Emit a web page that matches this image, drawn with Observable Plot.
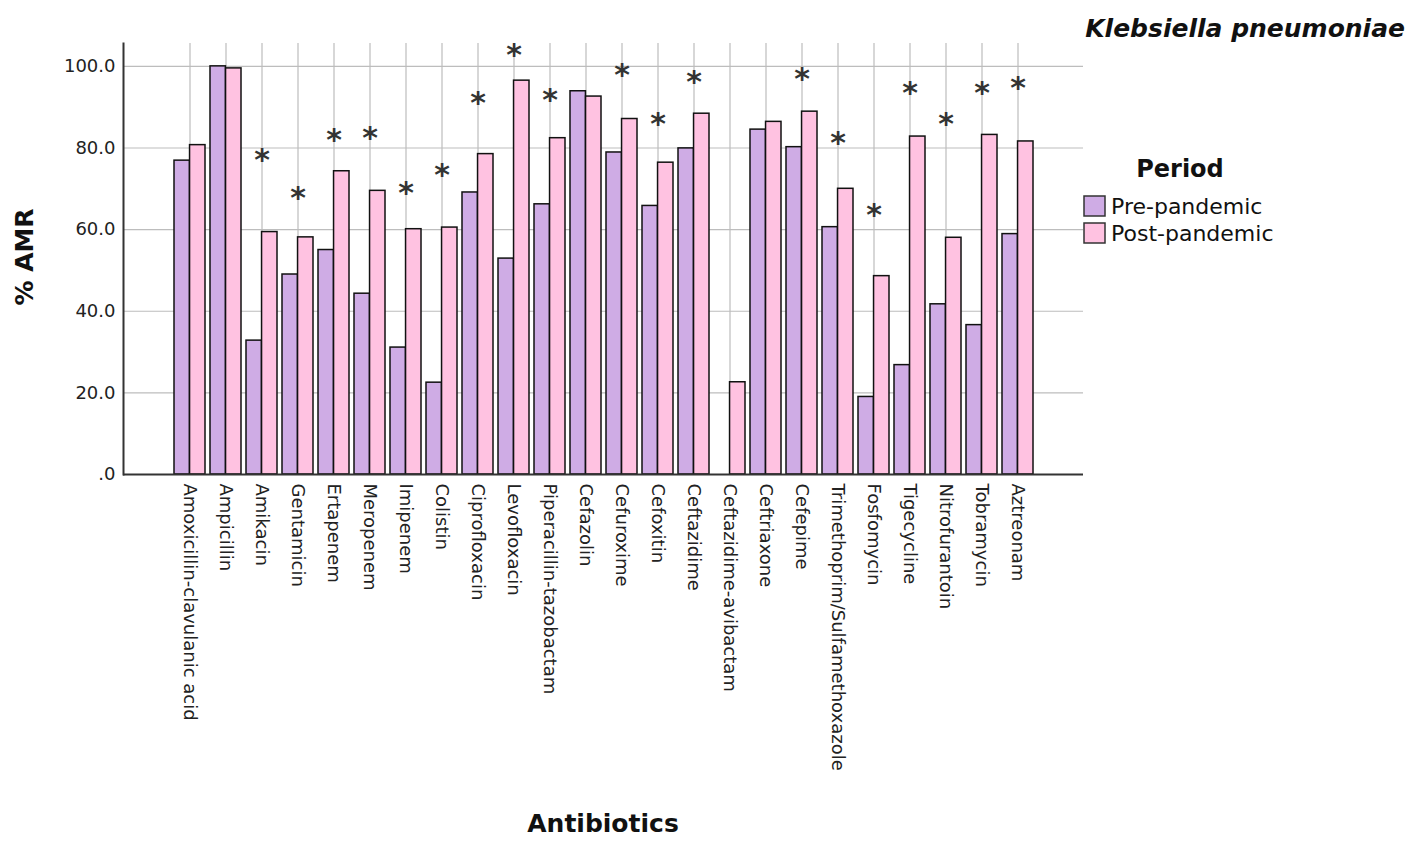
<!DOCTYPE html>
<html>
<head>
<meta charset="utf-8">
<script src="https://cdn.jsdelivr.net/npm/d3@7"></script>
<script src="https://cdn.jsdelivr.net/npm/@observablehq/plot@0.6"></script>
<style>
  html, body { margin: 0; padding: 0; background: #fff; overflow: hidden; }
  #chart { position: relative; width: 1419px; height: 843px; }
  svg { font-family: "DejaVu Sans", sans-serif; }
</style>
</head>
<body>
<div id="chart"></div>
<script>
const antibiotics = [
  "Amoxicillin-clavulanic acid", "Ampicillin", "Amikacin", "Gentamicin", "Ertapenem",
  "Meropenem", "Imipenem", "Colistin", "Ciprofloxacin", "Levofloxacin",
  "Piperacillin-tazobactam", "Cefazolin", "Cefuroxime", "Cefoxitin", "Ceftazidime",
  "Ceftazidime-avibactam", "Ceftriaxone", "Cefepime", "Trimethoprim/Sulfamethoxazole",
  "Fosfomycin", "Tigecycline", "Nitrofurantoin", "Tobramycin", "Aztreonam"
];
const prePandemic = [76.9, 100.0, 32.8, 49.0, 55.0, 44.3, 31.1, 22.5, 69.1, 52.9,
  66.2, 93.9, 78.9, 65.8, 79.9, null, 84.5, 80.2, 60.6, 19.0, 26.8, 41.7, 36.6, 58.9];
const postPandemic = [80.7, 99.5, 59.4, 58.1, 74.3, 69.5, 60.1, 60.5, 78.5, 96.5,
  82.4, 92.6, 87.1, 76.4, 88.4, 22.6, 86.4, 88.9, 70.0, 48.6, 82.8, 58.0, 83.2, 81.6];
// y position (in % AMR units) of the significance asterisk, null = none
const starY = [null, null, 77.8, 68.4, 82.6, 83.0, 69.7, 74.0, 91.6, 103.4,
  92.4, null, 98.5, 86.5, 96.7, null, null, 97.5, 81.8, 64.2, 94.0, 86.5, 94.0, 95.4];
const periods = ["Pre-pandemic", "Post-pandemic"];
const yTicks = [0, 20, 40, 60, 80, 100];

const colors = {"Pre-pandemic": "#CFACE5", "Post-pandemic": "#FFC2E1"};

const preRows = antibiotics.map((a, i) => ({antibiotic: a, value: prePandemic[i]})).filter(d => d.value != null);
const postRows = antibiotics.map((a, i) => ({antibiotic: a, value: postPandemic[i]})).filter(d => d.value != null);
const starRows = antibiotics.map((a, i) => ({antibiotic: a, y: starY[i]})).filter(d => d.y != null);

const W = 1419, H = 843;
const mLeft = 123, mRight = 336, mTop = 43, mBottom = 369;
const xInset = 46, padInner = 0.14;
const step = (W - mLeft - mRight - 2 * xInset) / antibiotics.length;
const half = step * (1 - padInner) / 2;

const plot = Plot.plot({
  width: W,
  height: H,
  marginLeft: mLeft,
  marginRight: mRight,
  marginTop: mTop,
  marginBottom: mBottom,
  style: {fontFamily: "DejaVu Sans, sans-serif", background: "#fff"},
  x: {type: "band", domain: antibiotics, paddingInner: padInner, paddingOuter: padInner / 2,
      insetLeft: xInset, insetRight: xInset, label: null},
  y: {domain: [0, 105.6], label: null},
  marks: [
    Plot.ruleY(yTicks.filter(d => d > 0), {stroke: "#bdbdbd", strokeWidth: 1.2}),
    Plot.ruleX(antibiotics, {stroke: "#bdbdbd", strokeWidth: 1.2}),
    Plot.barY(preRows, {x: "antibiotic", y: "value", fill: colors["Pre-pandemic"],
      stroke: "#111", strokeWidth: 1.5, insetRight: half}),
    Plot.barY(postRows, {x: "antibiotic", y: "value", fill: colors["Post-pandemic"],
      stroke: "#111", strokeWidth: 1.5, insetLeft: half}),
    Plot.text(starRows, {x: "antibiotic", y: "y", text: () => "*", fontSize: 30,
      fontWeight: "bold", fill: "#333", dy: 3}),
    Plot.axisY({ticks: yTicks, tickSize: 0, tickPadding: 8, fontSize: 18, fill: "#222",
      tickFormat: d => d === 0 ? ".0" : d.toFixed(1), label: null}),
    Plot.axisX({tickSize: 0, tickPadding: 9, tickRotate: 90, textAnchor: "start",
      lineAnchor: "middle", fontSize: 18, fill: "#222", label: null}),
    Plot.ruleY([0], {stroke: "#333", strokeWidth: 2}),
    Plot.frame({anchor: "left", stroke: "#333", strokeWidth: 2})
  ]
});

document.getElementById("chart").appendChild(plot);

const svg = d3.select(plot);
const g = svg.append("g").attr("fill", "#111").attr("font-family", "DejaVu Sans, sans-serif")
  .attr("text-anchor", "start");
g.append("text").attr("x", 1405).attr("y", 37).attr("text-anchor", "end")
  .attr("font-size", 25).attr("font-weight", "bold").attr("font-style", "italic")
  .text("Klebsiella pneumoniae");
g.append("text").attr("x", 1180).attr("y", 177).attr("text-anchor", "middle")
  .attr("font-size", 24).attr("font-weight", "bold").text("Period");
periods.forEach((p, i) => {
  g.append("rect").attr("x", 1084).attr("y", 196 + i * 27).attr("width", 21).attr("height", 20)
    .attr("fill", colors[p]).attr("stroke", "#333").attr("stroke-width", 1.5);
  g.append("text").attr("x", 1111).attr("y", 214 + i * 27).attr("text-anchor", "start")
    .attr("font-size", 22).text(p);
});
g.append("text").attr("transform", "translate(33,257) rotate(-90)").attr("text-anchor", "middle")
  .attr("font-size", 25).attr("font-weight", "bold").text("% AMR");
g.append("text").attr("x", 603).attr("y", 832).attr("text-anchor", "middle")
  .attr("font-size", 25).attr("font-weight", "bold").text("Antibiotics");
</script>
</body>
</html>
